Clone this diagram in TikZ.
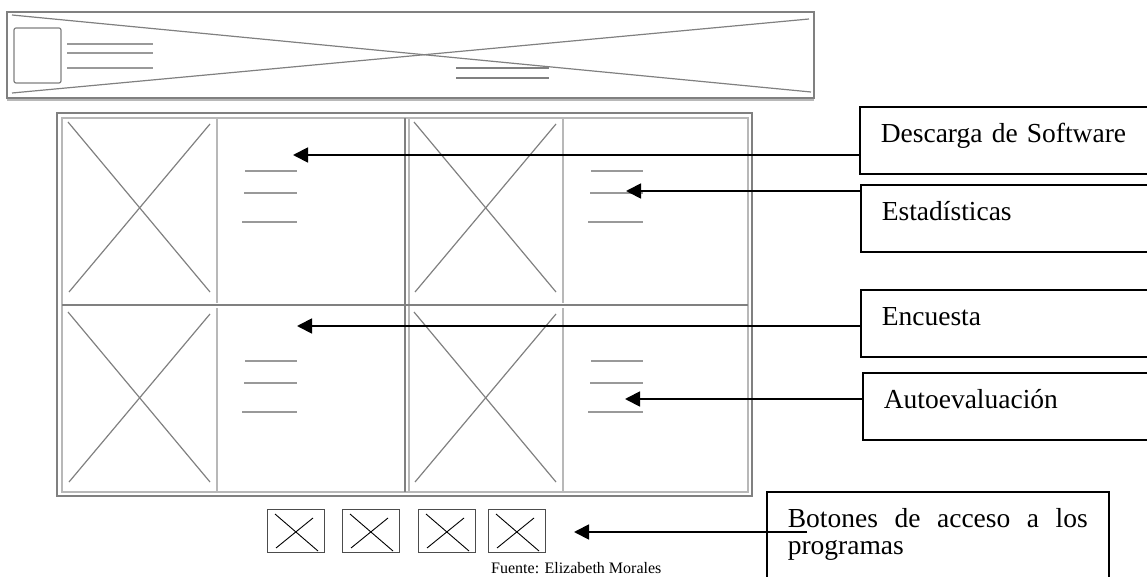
\documentclass[tikz,border=0pt]{standalone}
\usepackage{fontspec}
\setmainfont{Liberation Serif}
\usetikzlibrary{positioning, arrows.meta, calc}
\usepackage{xcolor}

\begin{document}
\begin{tikzpicture}[
                    % one unit is one pixel, y grows downwards
                    x=1pt, y=-1pt,
                    every node/.style={color=black}
                  ]
  % --- Styles for the wireframe and the callouts ---
  \tikzstyle{wire}=[draw=black!50, line width=1.2pt]
  \tikzstyle{wire light}=[draw=black!28, line width=1.6pt]
  \tikzstyle{text bar}=[draw=black!40, line width=1.8pt]
  \tikzstyle{button}=[draw=black!70, line width=0.9pt]
  \tikzstyle{callout}=[draw=black, line width=1.6pt, anchor=north west,
                       inner xsep=21pt, inner ysep=18pt, text width=280pt, align=left,
                       text height=18pt, text depth=13pt,
                       font=\fontsize{27.5}{26.5}\selectfont,
                       execute at begin node={\hyphenpenalty=10000 \tolerance=10000 }]
  \tikzstyle{pointer}=[draw=black, line width=1.8pt, -{Triangle[length=15pt, width=15pt]}]

  \useasboundingbox (0,0) rectangle (1147,577);

  % --- Header banner ---
  \draw[wire] (7,12) rectangle (814,98);
  \draw[wire light] (7,100) -- (814,100);
  \draw[wire] (12,15) -- (811,92);
  \draw[wire] (12,93) -- (809,19);
  \draw[wire, rounded corners=2pt] (14,28) rectangle (61,83);
  \foreach \y in {44,53,68} \draw[text bar] (67,\y) -- (153,\y);
  \foreach \y in {68,78} \draw[wire] (456,\y) -- (549,\y);

  % --- Main grid: frame and dividers ---
  \draw[wire] (57,113) rectangle (752,496);
  \draw[wire light] (62,118) rectangle (748,492);
  \draw[wire] (405,118) -- (405,492);
  \draw[wire light] (409,118) -- (409,492);
  \draw[wire, line width=2.5pt] (62,305) -- (748,305);

  % --- Four cells: picture placeholder and text bars ---
  \foreach \cx/\cy in {62/118, 408/118, 62/308, 408/308} {
    \draw[wire] (\cx+6, \cy+4) -- (\cx+148, \cy+174);
    \draw[wire] (\cx+148, \cy+6) -- (\cx+7, \cy+174);
    \draw[wire light] (\cx+155, \cy) -- (\cx+155, \cy+185);
    \draw[text bar] (\cx+183, \cy+53) -- (\cx+235, \cy+53);
    \draw[text bar] (\cx+182, \cy+75) -- (\cx+235, \cy+75);
    \draw[text bar] (\cx+180, \cy+104) -- (\cx+235, \cy+104);
  }

  % --- Buttons row ---
  \foreach \bx in {267,342,418,488} {
    \draw[button] (\bx,509) rectangle ++(57,43);
    \draw[button, draw=black] (\bx+8,514) -- (\bx+51,551);
    \draw[button, draw=black] (\bx+9,548) -- (\bx+46,518);
  }

  % --- Callout boxes ---
  \node[callout] (dl) at (859,106) {Descarga de Software};
  \node[callout] (st) at (860,184) {Estadísticas};
  \node[callout] (en) at (860,289) {Encuesta};
  \node[callout] (ae) at (862,372) {Autoevaluación};
  \node[callout, text width=300pt, align=justify, text depth=80pt] (bt) at (766,491)
    {Botones de acceso a los programas};

  \node[font=\fontsize{16}{18}\selectfont, anchor=base west, inner sep=0pt] (src) at (491,573)
    {Fuente: Elizabeth Morales};

  % --- Arrow tips and pointers ---
  \coordinate (t1) at (293,155);
  \coordinate (t2) at (626,191);
  \coordinate (t3) at (297,326);
  \coordinate (t4) at (625,399);
  \coordinate (t5) at (574,532);

  \draw[pointer] (dl.west |- t1) -- (t1);
  \draw[pointer] (st.west |- t2) -- (t2);
  \draw[pointer] (en.west |- t3) -- (t3);
  \draw[pointer] (ae.west |- t4) -- (t4);
  \draw[pointer] ($(bt.west |- t5)+(41,0)$) -- (t5);

\end{tikzpicture}
\end{document}
